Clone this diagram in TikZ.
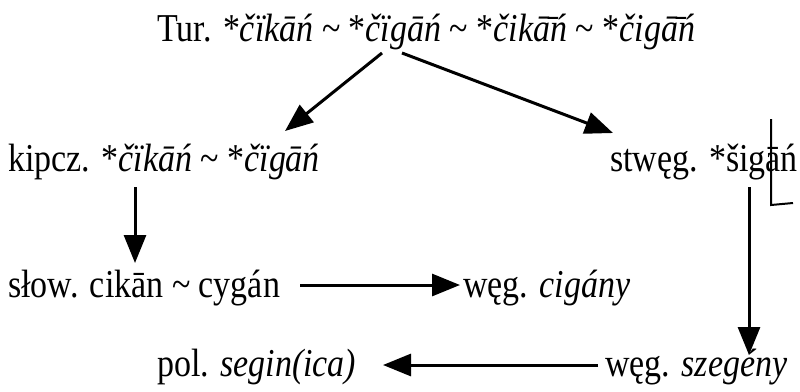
\documentclass[tikz,border=0pt]{standalone}
\usepackage{fontspec}
\setmainfont{Liberation Serif}[FakeStretch=0.86]
\usetikzlibrary{arrows.meta}
\begin{document}
\begin{tikzpicture}[x=1pt,y=-1pt,
  lbl/.style={inner sep=0pt,anchor=base west,font=\fontsize{39.5}{44}\selectfont},
  arr/.style={line width=3pt,-{Triangle[length=28pt,width=22pt]}},
  scanline/.style={line width=2pt}]
\useasboundingbox (0,0) rectangle (800,391);
\node[lbl] (tur) at (157,41) {Tur. *\emph{čïkāń} \textasciitilde{} *\emph{čïgāń} \textasciitilde{} *\emph{čikā̄ń} \textasciitilde{} *\emph{čigā̄ń}};
\node[lbl] (kip) at (8,171) {kipcz. *\emph{čïkāń} \textasciitilde{} *\emph{čïgāń}};
\node[lbl] (stw) at (610,171) {stwęg. *šigāń};
\node[lbl] (slo) at (8,297) {słow. cikān \textasciitilde{} cygán};
\node[lbl] (wc) at (463,297) {węg. \emph{cigány}};
\node[lbl] (pol) at (157,376) {pol. \emph{segin(ica)}};
\node[lbl] (ws) at (605,376) {węg. \emph{szegény}};
\coordinate (t1) at (382,53);
\coordinate (t2) at (402,53);
\draw[arr] (t1) -- (285,131);
\draw[arr] (t2) -- (613,133);
\draw[arr] (135,187) -- (135,263);
\draw[arr] (300,285) -- (460,285);
\draw[arr] (749,187) -- (749,355);
\draw[arr] (598,365) -- (383,365);
\draw[scanline] (771,119) -- (771,205) -- (793,203);
\end{tikzpicture}
\end{document}
